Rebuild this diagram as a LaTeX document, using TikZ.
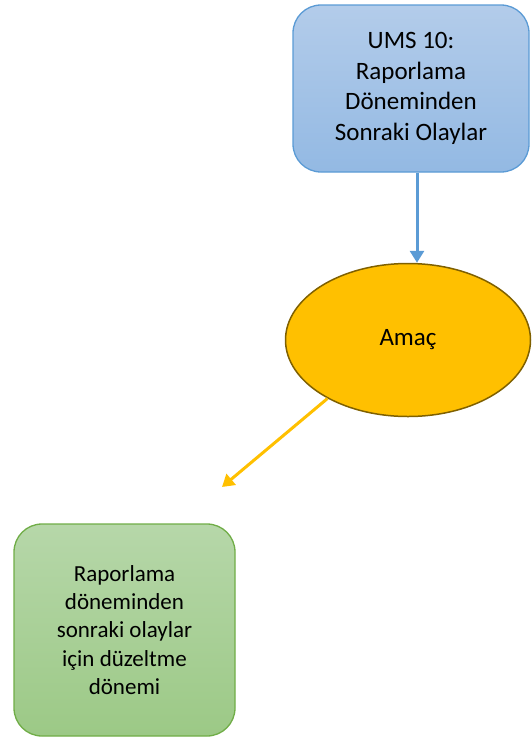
\documentclass[tikz,border=0pt]{standalone}
\usepackage{fontspec}
\setmainfont{Carlito}
\usetikzlibrary{shapes.geometric,arrows.meta}
\definecolor{mavikenar}{HTML}{5B9BD5}
\definecolor{maviust}{HTML}{B3CCEA}
\definecolor{mavialt}{HTML}{93B9E3}
\definecolor{yesilkenar}{HTML}{70AD47}
\definecolor{yesilust}{HTML}{B6D7A9}
\definecolor{yesilalt}{HTML}{9CC986}
\definecolor{sari}{HTML}{FFC000}
\definecolor{sarikenar}{HTML}{7F6000}
\begin{document}
\begin{tikzpicture}[x=1pt,y=-1pt,>={Triangle[length=12pt,width=14pt]},
    kutu/.style={rectangle,rounded corners=28pt,line width=1.3pt,align=center,inner sep=0pt}]
%    \draw[help lines] (0,0) grid (531,737);
    \useasboundingbox (0,0) rectangle (531,737);
    \node[kutu,draw=mavikenar,top color=maviust,bottom color=mavialt,
          minimum width=236pt,minimum height=167pt,
          font=\fontsize{25}{30.5}\selectfont] (ums) at (411,88.5)
          {UMS 10:\\Raporlama\\Döneminden\\Sonraki Olaylar};
    \node[ellipse,draw=sarikenar,fill=sari,line width=1.5pt,inner sep=0pt,
          minimum width=245pt,minimum height=153pt,
          font=\fontsize{25}{30.5}\selectfont] (amac) at (408,340) {Amaç};
    \node[kutu,draw=yesilkenar,top color=yesilust,bottom color=yesilalt,
          minimum width=221pt,minimum height=212pt,
          font=\fontsize{23}{28.3}\selectfont] (duzeltme) at (124.5,630)
          {Raporlama\\döneminden\\sonraki olaylar\\için düzeltme\\dönemi};
    \coordinate (ucnokta) at (222,487);

    \draw[->,line width=3pt,mavikenar] ([xshift=6pt]ums.south) to ([xshift=9pt]amac.north);
    \draw[->,line width=3pt,sari]      (amac.216) to (ucnokta);
\end{tikzpicture}
\end{document}
